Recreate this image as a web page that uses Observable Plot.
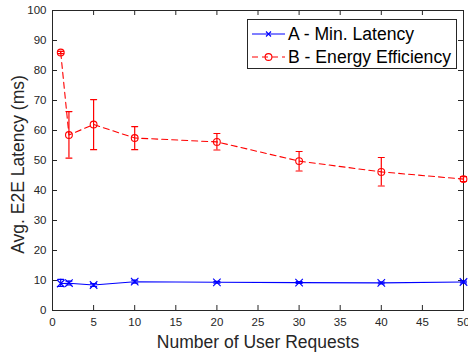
<!DOCTYPE html>
<html><head><meta charset="utf-8">
<script src="https://cdn.jsdelivr.net/npm/d3@7"></script>
<script src="https://cdn.jsdelivr.net/npm/@observablehq/plot@0.6"></script>
<style>
body{margin:0;background:#fff}
#wrap{position:relative;width:468px;height:354px;font-family:"Liberation Sans",Arial,Helvetica,sans-serif}
#legend{position:absolute;left:247px;top:19px}
</style>
</head><body><div id="wrap"></div>
<script>
// ---- data ----
const requests = [1, 2, 5, 10, 20, 30, 40, 50];
const latencyA = [9.0, 9.1, 8.5, 9.6, 9.4, 9.3, 9.2, 9.5];
const lowA     = [8.0, 8.5, 8.0, 9.1, 9.1, 9.0, 8.9, 9.2];
const highA    = [10.4, 9.8, 9.0, 10.1, 9.7, 9.6, 9.5, 9.8];
const latencyB = [86.0, 58.5, 62.0, 57.5, 56.2, 49.8, 46.2, 43.8];
const lowB     = [85.6, 50.8, 53.6, 53.6, 53.5, 46.5, 41.5, 43.0];
const highB    = [86.4, 66.3, 70.3, 61.3, 59.0, 53.0, 51.0, 44.6];
const xTicks = [0, 5, 10, 15, 20, 25, 30, 35, 40, 45, 50];
const yTicks = [0, 10, 20, 30, 40, 50, 60, 70, 80, 90, 100];
const seriesNames = ["A - Min. Latency", "B - Energy Efficiency"];
const xLabel = "Number of User Requests";
const yLabel = "Avg. E2E Latency (ms)";

const ink = "#262626";
const blue = "#0000ff";
const red = "#ff0000";
const dataA = requests.map((x, i) => ({x, y: latencyA[i], lo: lowA[i], hi: highA[i]}));
const dataB = requests.map((x, i) => ({x, y: latencyB[i], lo: lowB[i], hi: highB[i]}));
const capShape = {draw(ctx, l) { ctx.moveTo(0, 0); ctx.lineTo(0, -l); }};
const caps = (data, key, color) => Plot.vector(data, {x: "x", y: key, rotate: 90, length: 6, anchor: "middle", shape: capShape, stroke: color, strokeWidth: 1.2});

const chart = Plot.plot({
  width: 468, height: 354,
  marginLeft: 52, marginRight: 5, marginTop: 10, marginBottom: 44,
  style: {fontFamily: "Liberation Sans, Arial, Helvetica, sans-serif", fontSize: "11.5px", color: ink, background: "white", overflow: "visible"},
  x: {domain: [0, 50]},
  y: {domain: [0, 100]},
  marks: [
    // inward ticks on all four sides (MATLAB box)
    Plot.tickX(xTicks, {x: d => d, stroke: ink, insetTop: 295}),
    Plot.tickX(xTicks, {x: d => d, stroke: ink, insetBottom: 295}),
    Plot.tickY(yTicks, {y: d => d, stroke: ink, insetRight: 406}),
    Plot.tickY(yTicks, {y: d => d, stroke: ink, insetLeft: 406}),
    Plot.frame({stroke: ink}),
    Plot.axisX({ticks: xTicks, tickSize: 0, tickPadding: 7, label: null, fill: ink}),
    Plot.axisY({ticks: yTicks, tickSize: 0, tickPadding: 6, label: null, fill: ink}),
    // series A
    Plot.ruleX(dataA, {x: "x", y1: "lo", y2: "hi", stroke: blue, strokeWidth: 1.2}),
    caps(dataA, "lo", blue), caps(dataA, "hi", blue),
    Plot.line(dataA, {x: "x", y: "y", stroke: blue, strokeWidth: 1.1}),
    Plot.dot(dataA, {x: "x", y: "y", symbol: "times", r: 3.5, stroke: blue, strokeWidth: 1.1}),
    // series B
    Plot.ruleX(dataB, {x: "x", y1: "lo", y2: "hi", stroke: red, strokeWidth: 1.2}),
    caps(dataB, "lo", red), caps(dataB, "hi", red),
    Plot.line(dataB, {x: "x", y: "y", stroke: red, strokeWidth: 1.1, strokeDasharray: "6,4"}),
    Plot.dot(dataB, {x: "x", y: "y", symbol: "circle", r: 3.4, stroke: red, fill: "none", strokeWidth: 1.1}),
    // axis titles
    Plot.text([xLabel], {frameAnchor: "bottom", textAnchor: "middle", dy: 37, fontSize: 17.5, fill: ink}),
    Plot.text([yLabel], {frameAnchor: "left", textAnchor: "middle", rotate: -90, dx: -34, dy: 4, fontSize: 17.5, fill: ink})
  ]
});
const wrap = document.getElementById("wrap");
wrap.appendChild(chart);

// legend
const ns = "http://www.w3.org/2000/svg";
const lg = document.createElementNS(ns, "svg");
lg.setAttribute("id", "legend");
lg.setAttribute("width", 211); lg.setAttribute("height", 51);
lg.innerHTML = `
<rect x="0.5" y="0.5" width="209" height="49" fill="white" stroke="${ink}" stroke-width="1"/>
<line x1="5" x2="38" y1="15" y2="15" stroke="${blue}" stroke-width="1.1"/>
<path d="M19,12.5L24,17.5M24,12.5L19,17.5" stroke="${blue}" stroke-width="1.1"/>
<text x="41" y="15" dominant-baseline="central" font-size="17.6" fill="black">${seriesNames[0]}</text>
<line x1="5" x2="38" y1="38" y2="38" stroke="${red}" stroke-width="1.1" stroke-dasharray="6,4"/>
<circle cx="21.5" cy="38" r="3.4" fill="none" stroke="${red}" stroke-width="1.1"/>
<text x="41" y="38" dominant-baseline="central" font-size="17.6" fill="black">${seriesNames[1]}</text>`;
wrap.appendChild(lg);
</script>
</body></html>
